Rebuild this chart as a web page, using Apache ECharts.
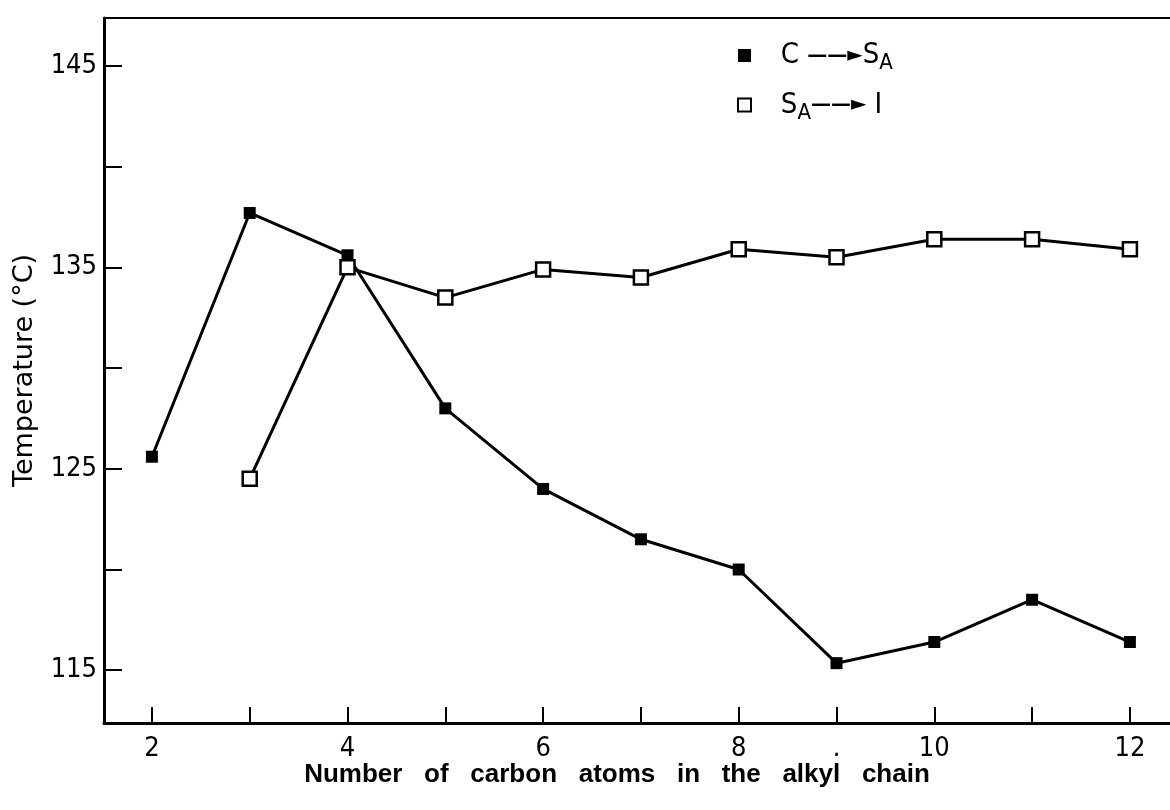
<!DOCTYPE html>
<html>
<head>
<meta charset="utf-8">
<title>Transition temperatures vs chain length</title>
<script src="https://cdn.jsdelivr.net/npm/echarts@6/dist/echarts.min.js"></script>
<style>
  html, body { margin: 0; padding: 0; background: #fff; }
  #chart { width: 1170px; height: 810px; }
</style>
</head>
<body>
<div id="chart"></div>
<script>
// carbon atoms in the alkyl chain
const carbonC = [2, 3, 4, 5, 6, 7, 8, 9, 10, 11, 12]
const carbonS = [3, 4, 5, 6, 7, 8, 9, 10, 11, 12]
// C -> SA transition (filled squares)
const tempCtoS = [125.6, 137.7, 135.6, 128.0, 124.0, 121.5, 120.0, 115.35, 116.4, 118.5, 116.4]
// SA -> I transition (open squares)
const tempStoI = [124.5, 135.0, 133.5, 134.9, 134.5, 135.9, 135.5, 136.4, 136.4, 135.9]

const xTickValues = [2, 3, 4, 5, 6, 7, 8, 9, 10, 11, 12]
const xLabelValues = [2, 4, 6, 8, 9, 10, 12]
const xLabelTexts = ['2', '4', '6', '8', '.', '10', '12']
const yTickValues = [115, 120, 125, 130, 135, 140, 145]
const yLabelValues = [115, 125, 135, 145]

const numFont = "'DejaVu Sans Condensed', sans-serif"

const chart = echarts.init(document.getElementById('chart'))

const pairs = (xs, ys) => xs.map((x, i) => [x, ys[i]])

chart.setOption({
  backgroundColor: '#fff',
  animation: false,
  grid: { left: 104, right: 0, top: 18, bottom: 87 },
  legend: {
    orient: 'vertical',
    left: 732,
    top: 36,
    itemWidth: 13,
    itemHeight: 13,
    itemGap: 16,
    textStyle: {
      color: '#000',
      fontFamily: numFont,
      fontSize: 29,
      rich: {
        n: { fontFamily: numFont, fontSize: 29, color: '#000' },
        arr: { fontFamily: 'DejaVu Sans', fontSize: 20, fontWeight: 'bold', color: '#000' },
        sub: { fontFamily: numFont, fontSize: 22, color: '#000', padding: [16, 0, 0, 0] }
      }
    },
    formatter: name => name === 'C-SA'
      ? '{n|   C }{arr|\u2014\u2014\u25BA}{n|S}{sub|A}'
      : '{n|   S}{sub|A}{arr|\u2014\u2014\u25BA}{n| I}',
    data: [
      { name: 'C-SA', icon: 'rect', itemStyle: { color: '#000', borderWidth: 0 } },
      { name: 'SA-I', icon: 'rect', itemStyle: { color: '#fff', borderColor: '#000', borderWidth: 2 } }
    ]
  },
  xAxis: [{
    type: 'value',
    min: 1.51,
    max: 12.41,
    name: 'Number   of   carbon   atoms   in   the   alkyl   chain',
    nameLocation: 'middle',
    nameGap: 39,
    nameMoveOverlap: false,
    nameTextStyle: {
      fontFamily: "'Liberation Sans', Arial, sans-serif",
      fontWeight: 'bold',
      fontSize: 26,
      color: '#000',
      padding: [0, 40, 0, 0]
    },
    axisLine: { lineStyle: { color: '#000', width: 3 } },
    axisTick: { inside: true, length: 16, customValues: xTickValues, lineStyle: { color: '#000', width: 2 } },
    axisLabel: {
      customValues: xLabelValues,
      formatter: v => xLabelTexts[xLabelValues.indexOf(v)],
      margin: 12,
      fontFamily: numFont,
      fontSize: 27,
      color: '#000'
    },
    splitLine: { show: false }
  }, {
    type: 'value',
    position: 'top',
    min: 1.51,
    max: 12.41,
    axisLine: { lineStyle: { color: '#000', width: 2 } },
    axisTick: { show: false },
    axisLabel: { show: false },
    splitLine: { show: false }
  }],
  yAxis: {
    type: 'value',
    min: 112.38,
    max: 147.38,
    name: 'Temperature (\u00B0C)',
    nameLocation: 'middle',
    nameRotate: 90,
    nameGap: 66,
    nameMoveOverlap: false,
    nameTextStyle: {
      fontFamily: "'DejaVu Sans', sans-serif",
      fontSize: 27,
      color: '#000'
    },
    axisLine: { lineStyle: { color: '#000', width: 3 } },
    axisTick: { inside: true, length: 18, customValues: yTickValues, lineStyle: { color: '#000', width: 2 } },
    axisLabel: {
      customValues: yLabelValues,
      margin: 7,
      fontFamily: numFont,
      fontSize: 27,
      color: '#000'
    },
    splitLine: { show: false }
  },
  series: [{
    name: 'C-SA',
    type: 'line',
    symbol: 'rect',
    symbolSize: 12,
    lineStyle: { color: '#000', width: 3 },
    itemStyle: { color: '#000' },
    z: 2,
    data: pairs(carbonC, tempCtoS)
  }, {
    name: 'SA-I',
    type: 'line',
    symbol: 'rect',
    symbolSize: 14,
    lineStyle: { color: '#000', width: 3 },
    itemStyle: { color: '#fff', borderColor: '#000', borderWidth: 2.5 },
    z: 3,
    data: pairs(carbonS, tempStoI)
  }]
})
</script>
</body>
</html>
